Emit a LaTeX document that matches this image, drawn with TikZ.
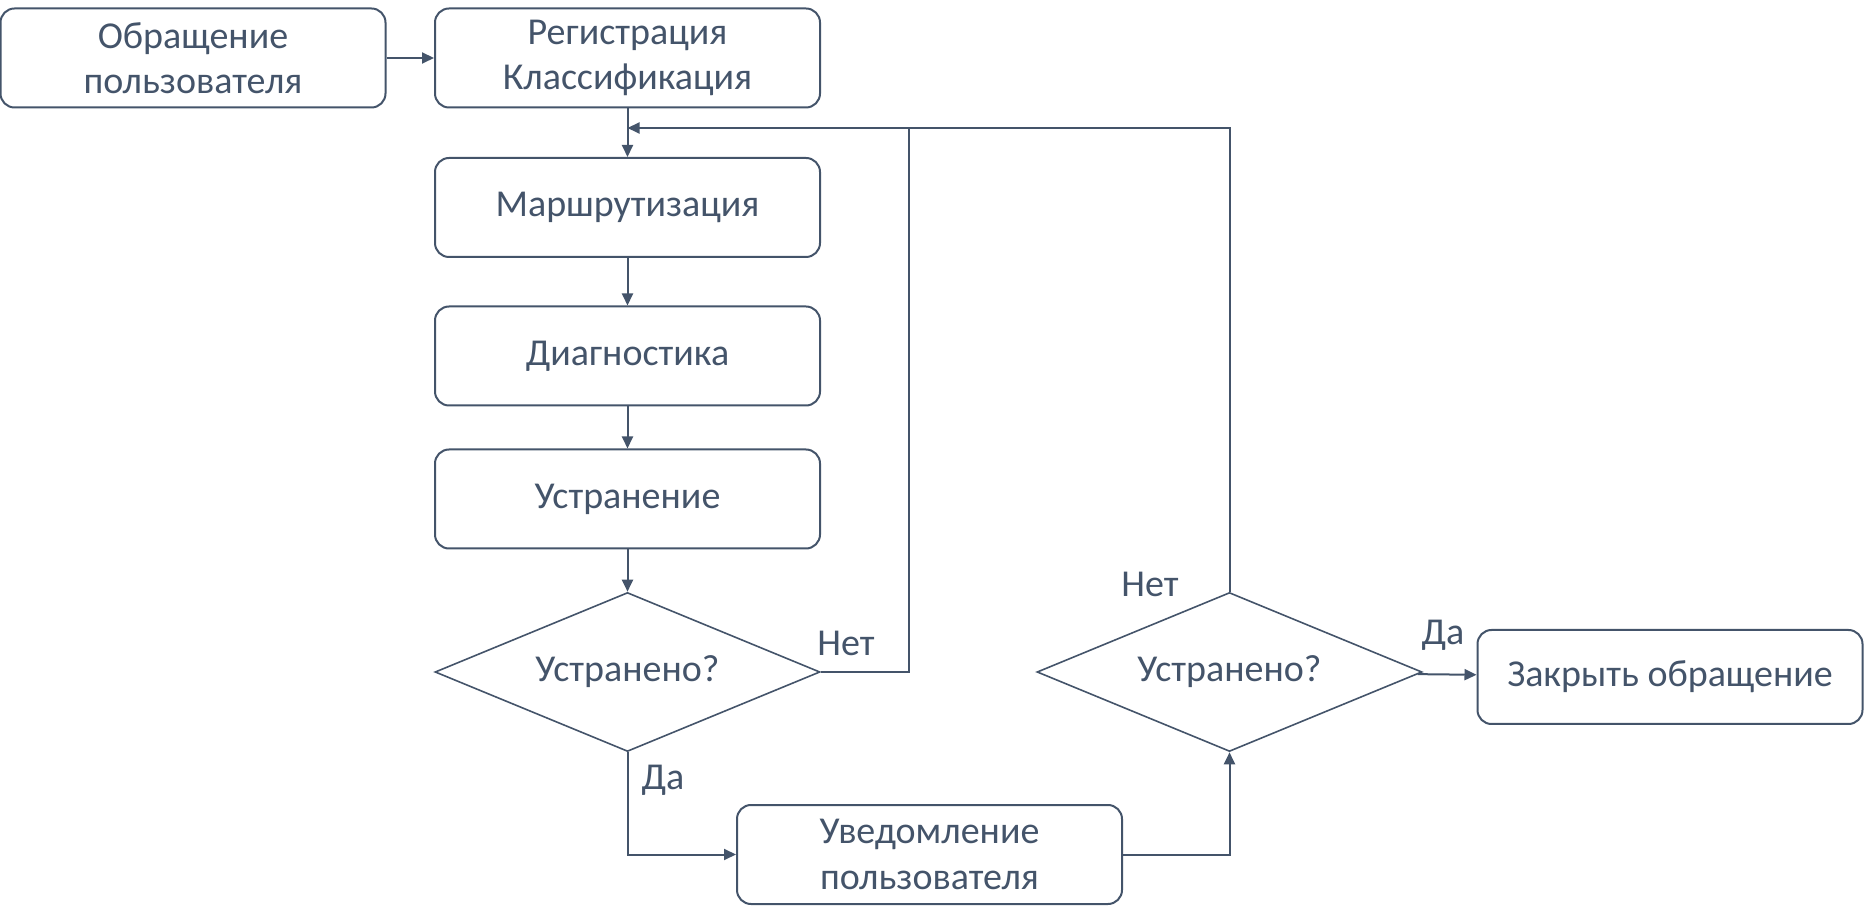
\documentclass[tikz,border=0pt]{standalone}
\usepackage{fontspec}
\setmainfont{Carlito}
\usetikzlibrary{shapes.geometric,arrows.meta}
\definecolor{slate}{HTML}{44546A}
\begin{document}
\begin{tikzpicture}[x=0.5pt,y=-0.5pt,line width=1pt,draw=slate,
  every node/.style={text=slate,font=\fontsize{19}{22.6}\selectfont},
  box/.style={rectangle,rounded corners=7pt,draw=slate,align=center,inner sep=0pt,
    minimum width=192.5pt,minimum height=49.5pt},
  decision/.style={diamond,draw=slate,line width=0.8pt,inner sep=0pt,shape aspect=2.42,
    minimum width=192.5pt,minimum height=79.5pt},
  lbl/.style={inner sep=0pt},
  arr/.style={draw=slate,-{Triangle[length=6pt,width=5.5pt]}}]
  \useasboundingbox (0,0) rectangle (1864,924);
  \node[box] (obr) at (193,58) {Обращение\\пользователя};
  \node[box] (reg) at (627.5,58) {Регистрация\\Классификация};
  \node[box] (marsh) at (627.5,207.5) {Маршрутизация};
  \node[box] (diag) at (627.5,356) {Диагностика};
  \node[box] (ustr) at (627.5,499) {Устранение};
  \node[decision] (chk1) at (627.5,672) {Устранено?};
  \node[box] (uved) at (929.5,854.5) {Уведомление\\пользователя};
  \node[decision] (chk2) at (1229.5,672) {Устранено?};
  \node[box,minimum height=47pt] (zakr) at (1670,677) {Закрыть обращение};
  \node[lbl] (net1) at (846,643) {Нет};
  \node[lbl] (da1) at (663,780) {Да};
  \node[lbl] (net2) at (1150,584) {Нет};
  \node[lbl] (da2) at (1443,635) {Да};
  \coordinate (join) at (627.5,128);
  \coordinate (mid) at (909,128);
  \draw[arr] (obr) -- (reg);
  \draw[arr] (reg) -- (marsh);
  \draw[arr] (marsh) -- (diag);
  \draw[arr] (diag) -- (ustr);
  \draw[arr] (ustr) -- (chk1);
  \draw[arr] (chk1.east) -| (mid) -- (join);
  \draw[arr] (chk1.south) |- (uved.west);
  \draw[arr] (uved.east) -| (chk2.south);
  \draw (chk2.north) |- (mid);
  \draw[arr] (chk2) -- (zakr);
\end{tikzpicture}
\end{document}
